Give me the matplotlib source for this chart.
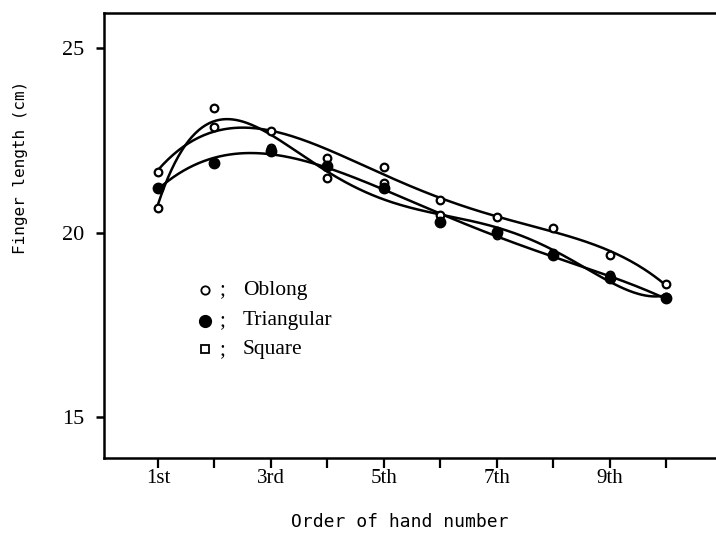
import numpy as np
import matplotlib
matplotlib.use('Agg')
import matplotlib.pyplot as plt

# Порядковый номер пальца / руки
hand = [1, 2, 3, 4, 5, 6, 7, 8, 9, 10]
tick_labels = ['1st', '', '3rd', '', '5th', '', '7th', '', '9th', '']

# Значения (см)
oblong = [20.68, 23.37, 22.30, 21.47, 21.35, 20.48, 19.95, 19.45, 18.85, 18.25]
triangular = [21.22, 21.90, 22.22, 21.81, 21.20, 20.30, 20.03, 19.40, 18.76, 18.22]
square = [21.65, 22.87, 22.76, 22.02, 21.79, 20.89, 20.42, 20.12, 19.40, 18.61]

legend_names = ['Oblong', 'Triangular', 'Square']

serif = 'Liberation Serif'
mono = 'DejaVu Sans Mono'

fig = plt.figure(figsize=(7.16, 5.34), dpi=100)
ax = fig.add_axes([104 / 716, 1 - 458 / 534, 612 / 716, (458 - 12.7) / 534])

x = np.array(hand, dtype=float)
xs = np.linspace(x[0], x[-1], 300)

# сглаживающие кривые
for vals, deg in [(oblong, 5), (triangular, 4), (square, 4)]:
    p = np.polyfit(x, vals, deg)
    ax.plot(xs, np.polyval(p, xs), color='black', lw=1.8, zorder=2)

ax.plot(x, oblong, 'o', ms=5.5, mfc='white', mec='black', mew=1.6, zorder=3)
ax.plot(x, square, 'o', ms=5.5, mfc='white', mec='black', mew=1.6, zorder=3)
ax.plot(x, triangular, 'o', ms=7.5, mfc='black', mec='black', zorder=4)

ax.set_xlim(0.043, 10.886)
ax.set_ylim(13.894, 25.962)

ax.spines['right'].set_visible(False)
for s in ['left', 'bottom', 'top']:
    ax.spines[s].set_linewidth(1.8)

ax.set_xticks(hand)
ax.set_xticklabels(tick_labels, fontfamily=serif, fontsize=15)
ax.tick_params(axis='x', direction='out', length=7, width=1.6, pad=1)
ax.set_yticks([15, 20, 25])
ax.set_yticklabels(['15', '20', '25'], fontfamily=serif, fontsize=16)
ax.tick_params(axis='y', direction='out', length=6, width=1.8, pad=8)

fig.text(21 / 716, 1 - 167 / 534, 'Finger length (cm)', rotation=90,
         ha='center', va='center', fontfamily=mono, fontsize=11.5)
fig.text(400 / 716, 1 - 522 / 534, 'Order of hand number',
         ha='center', va='center', fontfamily=mono, fontsize=13)

# легенда: маркер ; название
rows = [0.377, 0.308, 0.244]
styles = [
    dict(marker='o', ms=6, mfc='white', mec='black', mew=1.3),
    dict(marker='o', ms=8.5, mfc='black', mec='black'),
    dict(marker='s', ms=5.5, mfc='white', mec='black', mew=1.3),
]
for yy, st, name in zip(rows, styles, legend_names):
    ax.plot([0.165], [yy], ls='none', transform=ax.transAxes, **st)
    ax.text(0.194, yy, ';', transform=ax.transAxes, ha='center', va='center',
            fontfamily=serif, fontsize=15)
    ax.text(0.227, yy, name, transform=ax.transAxes, ha='left', va='center',
            fontfamily=serif, fontsize=15.5)

fig.savefig('out.png', dpi=100)
